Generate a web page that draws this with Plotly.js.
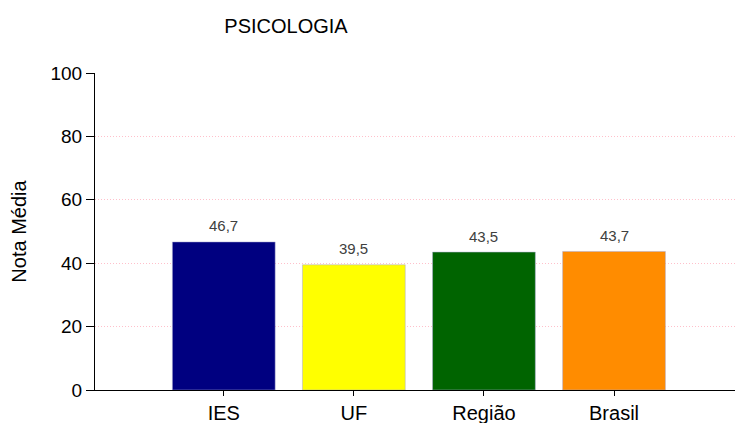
<!DOCTYPE html>
<html><head><meta charset="utf-8">
<script src="https://cdn.plot.ly/plotly-3.0.1.min.js"></script>
<style>html,body{margin:0;padding:0;background:#fff}</style>
</head><body>
<div id="chart" style="width:735px;height:423px"></div>
<script>
const categories = ['IES', 'UF', 'Região', 'Brasil'];
const values = [46.7, 39.5, 43.5, 43.7];
const colors = ['#000080', '#FFFF00', '#006400', '#FF8C00'];
const yTicks = [0, 20, 40, 60, 80, 100];

const FONT = 'Liberation Sans, Arial, sans-serif';

const trace = {
  type: 'bar',
  x: categories,
  y: values,
  width: 0.79,
  marker: {color: colors, line: {color: 'rgba(170,170,210,0.5)', width: 1}},
  hoverinfo: 'none'
};

const annotations = categories.map((c, i) => ({
  x: c, y: values[i], xref: 'x', yref: 'y',
  text: values[i].toFixed(1).replace('.', ','),
  showarrow: false, yanchor: 'middle', xanchor: 'center', yshift: 16,
  font: {family: FONT, size: 15, color: '#404040'}
}));

const layout = {
  width: 735, height: 423,
  margin: {l: 95, r: 0, t: 73, b: 33},
  paper_bgcolor: '#fff', plot_bgcolor: '#fff',
  showlegend: false,
  separators: ',.',
  annotations: annotations,
  title: {text: 'PSICOLOGIA', x: 286/735, xref: 'container', xanchor: 'center', y: 1 - 26/423, yref: 'container', yanchor: 'middle',
          font: {family: FONT, size: 20, color: '#000'}},
  xaxis: {
    range: [-0.99, 3.93], showline: true, linecolor: '#000', linewidth: 1,
    ticks: 'outside', ticklen: 5, tickcolor: '#000', showgrid: false, zeroline: false,
    tickfont: {family: FONT, size: 20, color: '#000'},
    automargin: false
  },
  yaxis: {
    range: [0, 100], tickvals: yTicks, showline: true, linecolor: '#000', linewidth: 1,
    ticks: 'outside', ticklen: 8, tickcolor: '#000',
    showgrid: true, gridcolor: '#ffc0cb', griddash: '1px,2px', gridwidth: 1, zeroline: false,
    tickfont: {family: FONT, size: 19, color: '#000'},
    title: {text: 'Nota Média', standoff: 18, font: {family: FONT, size: 20, color: '#000'}},
    automargin: false
  },
  bargap: 0.2
};

Plotly.newPlot('chart', [trace], layout, {displayModeBar: false, staticPlot: true});
</script>
</body></html>
